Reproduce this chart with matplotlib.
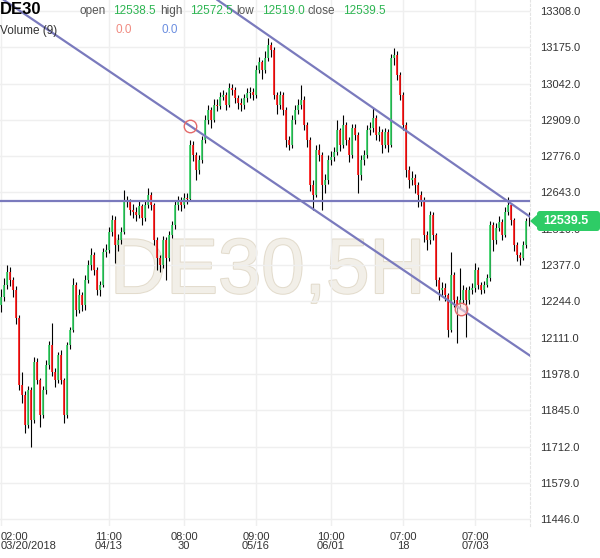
import numpy as np
import matplotlib
matplotlib.use("Agg")
import matplotlib.pyplot as plt
import matplotlib.patheffects as pe
from matplotlib.patches import FancyBboxPatch, Polygon
from matplotlib.transforms import IdentityTransform

# DE30, 5H candles
first_open = 12230
closes = [12260, 12304, 12352, 12322, 12286, 12183, 11938, 11901, 11791, 11919,
          11809, 12022, 11956, 11828, 11919, 12011, 12084, 11985, 11956, 12048,
          11956, 11828, 12084, 12139, 12304, 12212, 12267, 12231, 12322, 12377,
          12414, 12359, 12286, 12304, 12425, 12432, 12498, 12542, 12451, 12469,
          12498, 12615, 12608, 12579, 12572, 12561, 12593, 12550, 12597, 12634,
          12597, 12469, 12403, 12377, 12469, 12403, 12487, 12524, 12597, 12615,
          12597, 12623, 12618, 12817, 12780, 12725, 12762, 12835, 12909, 12945,
          12909, 12964, 12960, 12993, 13000, 12964, 13026, 13019, 12989, 12971,
          12964, 12989, 13008, 13011, 13000, 13092, 13121, 13092, 13136, 13183,
          13165, 13000, 12964, 13000, 12945, 12835, 12817, 12909, 12945, 12964,
          12982, 12890, 12835, 12670, 12634, 12799, 12780, 12670, 12689, 12762,
          12773, 12791, 12872, 12817, 12890, 12835, 12780, 12879, 12854, 12707,
          12762, 12780, 12872, 12879, 12916, 12854, 12865, 12817, 12865, 12817,
          13136, 13147, 13074, 13000, 12890, 12725, 12689, 12696, 12670, 12634,
          12615, 12487, 12469, 12561, 12487, 12322, 12286, 12293, 12267, 12139,
          12341, 12249, 12231, 12249, 12286, 12249, 12286, 12293, 12359, 12304,
          12286, 12304, 12330, 12524, 12469, 12513, 12535, 12487, 12572, 12597,
          12542, 12451, 12414, 12403, 12451, 12538.5, 12539.5]
highs = [12290, 12330, 12377, 12370, 12335, 12300, 12195, 11985, 11915, 11935,
         11930, 12040, 12035, 11965, 11935, 12030, 12100, 12165, 12000, 12060,
         12065, 11965, 12095, 12150, 12330, 12315, 12290, 12280, 12340, 12395,
         12440, 12425, 12370, 12320, 12440, 12455, 12515, 12560, 12555, 12490,
         12515, 12652, 12630, 12620, 12600, 12590, 12610, 12600, 12615, 12660,
         12645, 12605, 12480, 12415, 12485, 12480, 12500, 12540, 12610, 12630,
         12625, 12640, 12640, 12835, 12830, 12790, 12780, 12850, 12925, 12965,
         12955, 12985, 12985, 13010, 13020, 13010, 13045, 13040, 13030, 13000,
         12990, 13005, 13025, 13030, 13025, 13110, 13140, 13130, 13160, 13209,
         13195, 13175, 13010, 13015, 13010, 12955, 12850, 12925, 12965, 12985,
         13037, 12995, 12900, 12845, 12690, 12815, 12820, 12790, 12710, 12780,
         12795, 12810, 12909, 12880, 12927, 12900, 12845, 12895, 12895, 12865,
         12780, 12800, 12890, 12900, 12953, 12925, 12885, 12875, 12880, 12875,
         13150, 13172, 13160, 13085, 13010, 12900, 12740, 12720, 12710, 12680,
         12650, 12625, 12500, 12575, 12570, 12495, 12335, 12315, 12310, 12275,
         12425, 12350, 12265, 12366, 12305, 12295, 12300, 12310, 12385, 12370,
         12315, 12320, 12345, 12540, 12535, 12530, 12555, 12545, 12590, 12627,
         12605, 12550, 12460, 12425, 12465, 12550, 12572.5]
lows = [12205, 12245, 12290, 12300, 12260, 12160, 11920, 11870, 11762, 11780,
        11711, 11800, 11940, 11784, 11815, 11905, 11995, 11970, 11930, 11945,
        11940, 11799, 11815, 12070, 12130, 12190, 12200, 12210, 12212, 12310,
        12360, 12340, 12268, 12265, 12295, 12405, 12420, 12485, 12385, 12430,
        12455, 12490, 12590, 12560, 12550, 12540, 12550, 12525, 12540, 12585,
        12580, 12450, 12359, 12350, 12365, 12322, 12390, 12475, 12510, 12580,
        12575, 12585, 12600, 12610, 12760, 12689, 12710, 12750, 12825, 12895,
        12880, 12900, 12940, 12950, 12980, 12945, 12955, 13000, 12970, 12950,
        12940, 12950, 12975, 12990, 12980, 12990, 13080, 13060, 13080, 13125,
        13140, 12985, 12930, 12950, 12925, 12810, 12799, 12805, 12895, 12930,
        12950, 12870, 12810, 12650, 12579, 12625, 12760, 12579, 12640, 12675,
        12745, 12760, 12780, 12795, 12805, 12815, 12755, 12770, 12835, 12641,
        12690, 12745, 12770, 12855, 12865, 12835, 12830, 12788, 12805, 12790,
        12810, 13110, 13055, 12980, 12870, 12700, 12660, 12670, 12640, 12590,
        12595, 12460, 12432, 12455, 12470, 12300, 12250, 12265, 12245, 12114,
        12130, 12225, 12092, 12215, 12235, 12114, 12235, 12270, 12280, 12290,
        12270, 12275, 12295, 12320, 12430, 12455, 12500, 12470, 12480, 12560,
        12525, 12430, 12390, 12377, 12395, 12440, 12519]
opens = [first_open] + closes[:-1]

tick_pos = [0, 36, 61, 85, 110, 134, 158]
tick_labels = ["02:00\n03/20/2018", "11:00\n04/13", "08:00\n30", "09:00\n05/16",
               "10:00\n06/01", "07:00\n18", "07:00\n07/03"]
price_levels = [11446 + 133 * k for k in range(15)]

# trend lines: two anchor points each, plus horizontal level
lower_line = [(63, 12887), (153.3, 12216)]
upper_line = [(91.3, 13202), (168.7, 12612)]
level = 12612

W, H = 600, 558
fig = plt.figure(figsize=(W / 100, H / 100), dpi=100)
ax = fig.add_axes([0, 32 / H, 530 / W, 526 / H])

x = np.arange(len(closes))
o = np.array(opens)
c = np.array(closes)
up = c >= o
ax.vlines(x, lows, highs, color="black", lw=0.8, zorder=2)
ax.vlines(x[up], o[up], c[up], color="#2fd060", lw=1.2, zorder=2.5)
ax.vlines(x[~up], o[~up], c[~up], color="#ff1010", lw=1.2, zorder=2.5)

lc = "#7a7abd"
ax.axline(lower_line[0], lower_line[1], color=lc, lw=1.6, zorder=3)
ax.axline(upper_line[0], upper_line[1], color=lc, lw=1.6, zorder=3)
ax.axhline(level, color=lc, lw=1.6, zorder=3)
ax.plot([lower_line[0][0]], [lower_line[0][1]], "o", ms=9, mfc="none",
        mec="#e46a6a", mew=1, zorder=4)
ax.plot([lower_line[1][0]], [lower_line[1][1]], "o", ms=9, mfc=(1, 0.85, 0.85, 0.6),
        mec="#e46a6a", mew=1, zorder=4)

ax.set_xlim(-0.33, 176.3)
ax.set_ylim(11421, 13348)

ax.set_axisbelow(True)
ax.grid(True, color="#efefef", lw=1)
ax.set_xticks(tick_pos)
ax.set_xticklabels(tick_labels, fontsize=8, color="#333333", linespacing=0.95,
                   family="Liberation Sans")
ax.get_xticklabels()[0].set_ha("left")
ax.yaxis.tick_right()
ax.set_yticks(price_levels)
ax.set_yticklabels([f"{v:.1f}" for v in price_levels], fontsize=8, color="#333333",
                   family="Liberation Sans")
ax.tick_params(length=0, axis="y", pad=7)
ax.tick_params(length=0, axis="x", pad=4)
for s in ["top", "left", "bottom"]:
    ax.spines[s].set_visible(False)
ax.spines["right"].set_color("#e4e4e4")
ax.spines["right"].set_linestyle((0, (2, 2)))

# watermark
ax.text(110 / W, 1 - 293 / H, "DE30,5H", transform=fig.transFigure, fontsize=56,
        family="Liberation Sans", color="#f2efe8", ha="left", va="baseline",
        zorder=0.1, path_effects=[pe.withStroke(linewidth=1.5, foreground="#e3dccd")])

# header
def px(xp, yp):
    return xp / W, 1 - yp / H

green = "#2db552"
fig.text(*px(0, 10), "DE30", fontsize=12, weight="bold", va="center",
         family="Liberation Sans", color="black")
hdr = [(80, "open", "#555555"), (113, "12538.5", green), (160, "high", "#555555"),
       (190, "12572.5", green), (236, "low", "#555555"), (262, "12519.0", green),
       (307, "close", "#555555"), (343, "12539.5", green)]
for xp, t, col in hdr:
    fig.text(*px(xp, 11), t, fontsize=8.5, va="center", color=col, family="Liberation Sans")
fig.text(*px(0, 31), "Volume (9)", fontsize=8.5, va="center", color="#333333",
         family="Liberation Sans")
fig.text(*px(116, 30), "0.0", fontsize=8.5, va="center", color="#f08a80",
         family="Liberation Sans")
fig.text(*px(162, 30), "0.0", fontsize=8.5, va="center", color="#6b8ee0",
         family="Liberation Sans")

# last price tag
tag_col = "#2ecc66"
fig.patches.append(FancyBboxPatch((537, H - 231), 63, 20, boxstyle="round,pad=0,rounding_size=3",
                                  transform=IdentityTransform(), facecolor=tag_col,
                                  edgecolor="none", figure=fig))
fig.patches.append(Polygon([(530, H - 221), (538, H - 214), (538, H - 228)], closed=True,
                           transform=IdentityTransform(), facecolor=tag_col,
                           edgecolor="none", figure=fig))
fig.text(*px(566, 221), f"{closes[-1]:.1f}", fontsize=9, weight="bold", color="white",
         ha="center", va="center", family="Liberation Sans")

fig.savefig("out.png", dpi=100, facecolor="white")
